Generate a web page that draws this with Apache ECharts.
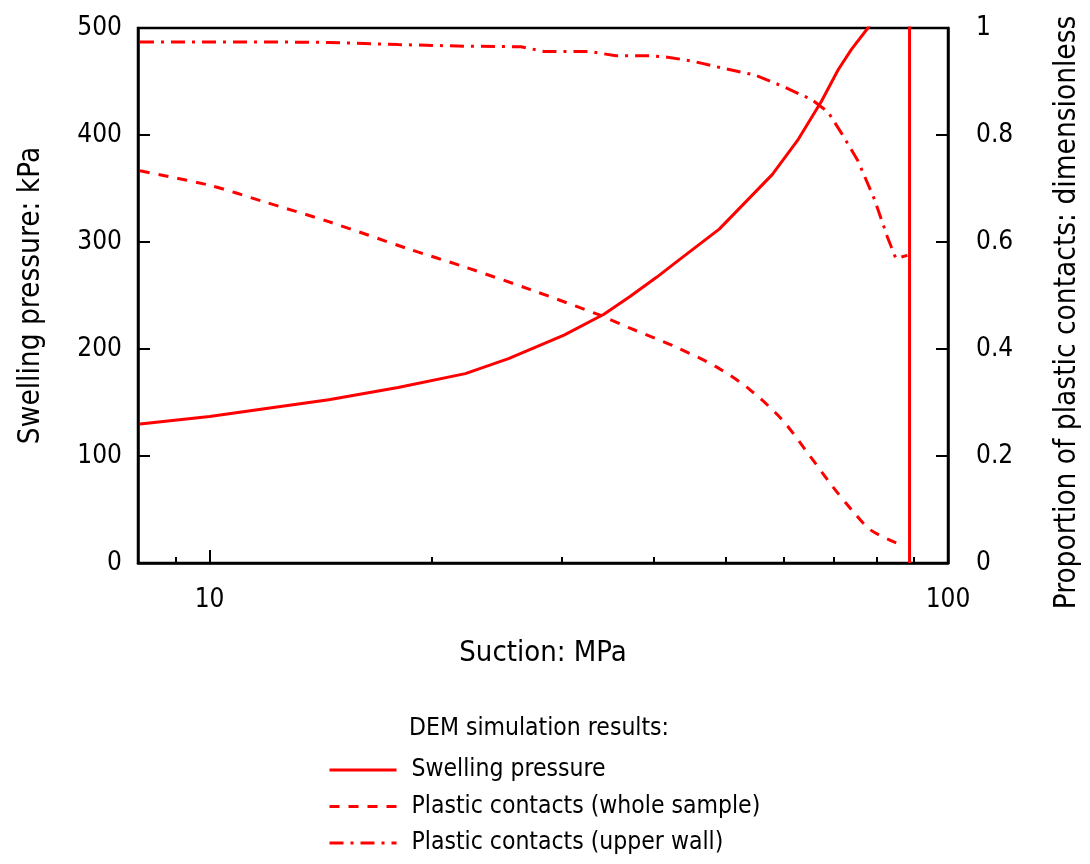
<!DOCTYPE html>
<html>
<head>
<meta charset="utf-8">
<script src="https://cdn.jsdelivr.net/npm/echarts@6/dist/echarts.min.js"></script>
<style>html,body{margin:0;padding:0;background:#fff;}#c{width:1090px;height:864px;}</style>
</head>
<body>
<div id="c"></div>
<script>
// Suction (MPa) vs swelling pressure (kPa)
const swellX = [8.05, 10, 11.8, 14.5, 18.0, 22.2, 25.4, 30.2, 34.2, 37.1, 40.3, 42.8, 49.0, 57.8, 62.7, 67.4, 71.0, 74.0, 77.9, 82.0, 86.0, 88.7, 88.7];
const swellY = [130, 137, 144, 152.6, 164, 177, 191, 213, 232.5, 249, 267, 281, 312, 363, 396, 431.5, 461, 480, 500, 525, 548, 565, 0];
// Plastic contacts, whole sample (proportion)
const wholeX = [8.05, 10, 11.8, 14.5, 18.6, 22.2, 27.2, 33.5, 37.1, 42.6, 48.5, 53.8, 59.5, 64.7, 69.6, 74.0, 78.7, 87.3];
const wholeY = [0.733, 0.706, 0.676, 0.638, 0.587, 0.553, 0.511, 0.465, 0.439, 0.405, 0.367, 0.325, 0.269, 0.204, 0.145, 0.100, 0.061, 0.031];
// Plastic contacts, upper wall (proportion)
const wallX = [8.05, 11.8, 14.5, 18.0, 22.2, 26.4, 28.4, 32.8, 35.5, 39.4, 41.5, 45.1, 49.5, 54.8, 59.5, 65.4, 68.8, 71.7, 75.5, 79.5, 82.8, 85.0, 88.1];
const wallY = [0.974, 0.974, 0.973, 0.969, 0.966, 0.965, 0.956, 0.956, 0.948, 0.948, 0.946, 0.938, 0.925, 0.912, 0.892, 0.866, 0.843, 0.804, 0.752, 0.680, 0.609, 0.569, 0.575];

const majorTicks = [10, 100];
const minorTicks = [9, 20, 30, 40, 50, 60, 70, 80, 90];

const seriesNames = ['Swelling pressure', 'Plastic contacts (whole sample)', 'Plastic contacts (upper wall)'];
const legendTitle = 'DEM simulation results:';
const xName = 'Suction: MPa';
const yLeftName = 'Swelling pressure: kPa';
const yRightName = 'Proportion of plastic contacts: dimensionless';

const FONT = "'DejaVu Sans Condensed', 'DejaVu Sans', sans-serif";
const RED = '#ff0000';
const zip = (a, b) => a.map((v, i) => [v, b[i]]);

const chart = echarts.init(document.getElementById('c'), null, {renderer: 'canvas'});
chart.setOption({
  animation: false,
  backgroundColor: '#fff',
  textStyle: {fontFamily: FONT},
  grid: {left: 138, right: 136, top: 28, bottom: 301, show: true, borderColor: '#000', borderWidth: 2.5, backgroundColor: 'transparent', containLabel: false},
  title: {text: legendTitle, left: 409, top: 716, padding: 0, textStyle: {fontFamily: FONT, fontSize: 24.5, fontWeight: 'normal', color: '#000'}},
  legend: {
    orient: 'vertical', left: 323, top: 752, itemWidth: 67, itemHeight: 14, itemGap: 10.5,
    data: seriesNames,
    itemStyle: {opacity: 0},
    lineStyle: {width: 3},
    textStyle: {fontFamily: FONT, fontSize: 24.5, color: '#000', lineHeight: 26, padding: [0, 0, 0, 10]},
    selectedMode: false
  },
  xAxis: [{
    type: 'log', logBase: 10, min: 8, max: 100,
    name: xName, nameLocation: 'middle', nameGap: 76,
    nameTextStyle: {fontFamily: FONT, fontSize: 29, color: '#000'},
    axisLine: {show: true, lineStyle: {color: '#000', width: 2.5}},
    axisTick: {show: true, inside: true, length: 13, lineStyle: {color: '#000', width: 2}, customValues: majorTicks},
    axisLabel: {show: true, margin: 24, fontFamily: FONT, fontSize: 26, color: '#000', customValues: majorTicks},
    splitLine: {show: false}, minorTick: {show: false}
  }, {
    type: 'log', logBase: 10, min: 8, max: 100, position: 'bottom',
    axisLine: {show: false},
    axisTick: {show: true, inside: true, length: 6, lineStyle: {color: '#000', width: 2}, customValues: minorTicks},
    axisLabel: {show: false},
    splitLine: {show: false}
  }],
  yAxis: [{
    type: 'value', min: 0, max: 500, interval: 100, position: 'left',
    name: yLeftName, nameLocation: 'middle', nameGap: 92, nameRotate: 90,
    nameTextStyle: {fontFamily: FONT, fontSize: 29.5, color: '#000'},
    axisLine: {show: true, lineStyle: {color: '#000', width: 2.5}},
    axisTick: {show: true, inside: true, length: 12, lineStyle: {color: '#000', width: 2}},
    axisLabel: {margin: 16, fontFamily: FONT, fontSize: 26, color: '#000'},
    splitLine: {show: false}
  }, {
    type: 'value', min: 0, max: 1, interval: 0.2, position: 'right',
    name: yRightName, nameLocation: 'middle', nameGap: 104, nameRotate: 90,
    nameTextStyle: {fontFamily: FONT, fontSize: 29.5, color: '#000', padding: [0, 34, 0, 0]},
    axisLine: {show: true, lineStyle: {color: '#000', width: 2.5}},
    axisTick: {show: true, inside: true, length: 12, lineStyle: {color: '#000', width: 2}},
    axisLabel: {margin: 28, fontFamily: FONT, fontSize: 26, color: '#000'},
    splitLine: {show: false}
  }],
  series: [{
    name: seriesNames[0], type: 'line', xAxisIndex: 0, yAxisIndex: 0, data: zip(swellX, swellY),
    smooth: false, showSymbol: false, symbol: 'none', clip: true,
    lineStyle: {color: RED, width: 3, type: 'solid'}, itemStyle: {color: RED}
  }, {
    name: seriesNames[1], type: 'line', xAxisIndex: 0, yAxisIndex: 1, data: zip(wholeX, wholeY),
    smooth: 0.3, showSymbol: false, symbol: 'none', clip: true,
    lineStyle: {color: RED, width: 3, type: [10, 9]}, itemStyle: {color: RED}
  }, {
    name: seriesNames[2], type: 'line', xAxisIndex: 0, yAxisIndex: 1, data: zip(wallX, wallY),
    smooth: false, showSymbol: false, symbol: 'none', clip: true,
    lineStyle: {color: RED, width: 3, type: [14, 7, 3, 7]}, itemStyle: {color: RED}
  }]
});
</script>
</body>
</html>
